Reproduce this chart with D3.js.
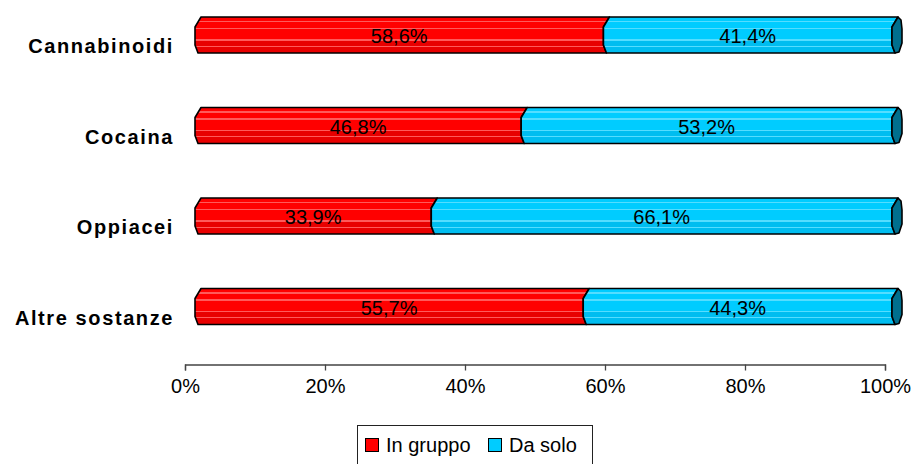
<!DOCTYPE html>
<html>
<head>
<meta charset="utf-8">
<script src="https://cdn.jsdelivr.net/npm/d3@7"></script>
<style>
  html, body { margin: 0; padding: 0; background: #fff; }
  svg { display: block; font-family: "Liberation Sans", Arial, sans-serif; }
</style>
</head>
<body>
<svg id="chart" width="914" height="464"></svg>
<script>
const categories = ["Cannabinoidi", "Cocaina", "Oppiacei", "Altre sostanze"];
const inGruppo = [58.6, 46.8, 33.9, 55.7];
const daSolo = [41.4, 53.2, 66.1, 44.3];
const seriesNames = ["In gruppo", "Da solo"];
const tickValues = [0, 20, 40, 60, 80, 100];

const svg = d3.select("#chart");
const defs = svg.append("defs");

function stripeGrad(id, base, light, dark) {
  const g = defs.append("linearGradient").attr("id", id)
    .attr("x1", 0).attr("y1", 0).attr("x2", 0).attr("y2", 1);
  const stops = [
    [0, base], [0.10, base], [0.10, light], [0.14, light], [0.14, base],
    [0.30, base], [0.30, light], [0.34, light], [0.34, base],
    [0.62, base], [0.62, light], [0.66, light], [0.66, dark],
    [0.80, dark], [0.80, light], [0.83, light], [0.83, dark], [1, dark]
  ];
  stops.forEach(s => g.append("stop").attr("offset", s[0]).attr("stop-color", s[1]));
}
stripeGrad("gRed", "#ff0000", "#ff5a5a", "#e80000");
stripeGrad("gBlue", "#00ccff", "#55ddff", "#00bdf0");

const fills = ["url(#gRed)", "url(#gBlue)"];
const swatch = ["#ff0000", "#00ccff"];
const capFill = "#006f8e";

const x = d3.scaleLinear().domain([0, 100]).range([195, 892]);
const xAxisScale = d3.scaleLinear().domain([0, 100]).range([185, 885]);
const y = d3.scalePoint().domain(categories).range([35, 306.5]);
const barH = 36;

function segPath(x0, x1, top, h) {
  return `M${x0 + 6},${top} L${x1 + 6},${top} L${x1},${top + 10} L${x1},${top + h - 8} L${x1 + 3},${top + h} ` +
         `L${x0 + 3},${top + h} L${x0},${top + h - 8} L${x0},${top + 10} Z`;
}
function capPath(x1, top, h) {
  return `M${x1 + 6},${top} L${x1 + 9},${top + 3} L${x1 + 10},${top + 12} L${x1 + 10},${top + h - 10} ` +
         `L${x1 + 7},${top + h - 1} L${x1 + 3},${top + h} L${x1},${top + h - 8} L${x1},${top + 10} Z`;
}

const fmt = v => d3.format(".1f")(v).replace(".", ",") + "%";

const rows = categories.map((c, i) => ({ cat: c, vals: [inGruppo[i], daSolo[i]] }));

// axis
const axis = d3.axisBottom(xAxisScale).tickValues(tickValues)
  .tickFormat(d => d + "%").tickSizeInner(6).tickSizeOuter(6).tickPadding(8);
const gAxis = svg.append("g").attr("transform", "translate(0,364.5)").call(axis);
gAxis.select(".domain").attr("stroke", "#444").attr("stroke-width", 1.3);
gAxis.selectAll(".tick line").attr("stroke", "#444").attr("stroke-width", 1.3);
gAxis.selectAll(".tick text").attr("font-size", 20).attr("fill", "#000")
  .attr("font-family", "'Liberation Sans', Arial, sans-serif");

// bars
rows.forEach(r => {
  const top = y(r.cat) - barH / 2;
  let cum = 0;
  const g = svg.append("g");
  r.vals.forEach((v, k) => {
    const x0 = x(cum), x1 = x(cum + v);
    g.append("path").attr("d", segPath(x0, x1, top, barH))
      .attr("fill", fills[k]).attr("stroke", "#000").attr("stroke-width", 1.6)
      .attr("stroke-linejoin", "round");
    cum += v;
  });
  g.append("path").attr("d", capPath(x(cum), top, barH))
    .attr("fill", capFill).attr("stroke", "#000").attr("stroke-width", 1.6)
    .attr("stroke-linejoin", "round");
  cum = 0;
  r.vals.forEach((v, k) => {
    const cx = (x(cum) + x(cum + v)) / 2;
    g.append("text").attr("x", cx).attr("y", y(r.cat) + 8)
      .attr("text-anchor", "middle").attr("font-size", 20).attr("fill", "#000")
      .text(fmt(v));
    cum += v;
  });
  svg.append("text").attr("x", 174).attr("y", y(r.cat) + 18)
    .attr("text-anchor", "end").attr("font-size", 20).attr("font-weight", "bold")
    .attr("letter-spacing", 1.6).attr("fill", "#000")
    .attr("font-family", "'Liberation Sans', Arial, sans-serif")
    .text(r.cat);
});

// legend
const lg = svg.append("g");
lg.append("rect").attr("x", 357.5).attr("y", 425.5).attr("width", 235).attr("height", 42)
  .attr("fill", "#fff").attr("stroke", "#222").attr("stroke-width", 1);
const legendX = [365, 488];
seriesNames.forEach((n, k) => {
  lg.append("rect").attr("x", legendX[k] + 0.5).attr("y", 438.5).attr("width", 13).attr("height", 13)
    .attr("fill", swatch[k]).attr("stroke", "#000").attr("stroke-width", 1);
  lg.append("text").attr("x", legendX[k] + 21).attr("y", 452).attr("font-size", 20)
    .attr("fill", "#000").text(n);
});
</script>
</body>
</html>
